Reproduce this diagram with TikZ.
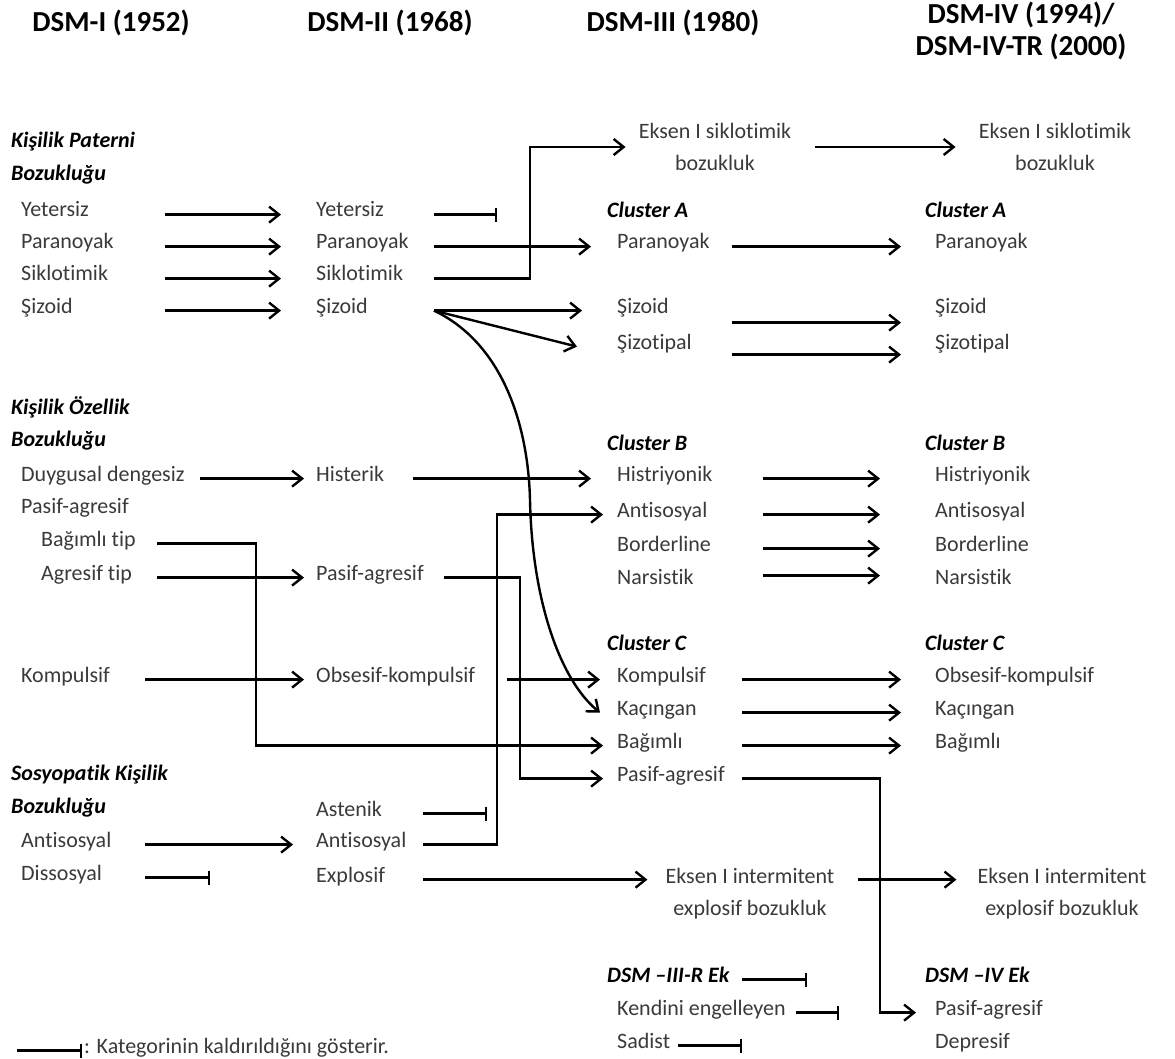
\documentclass[tikz,border=0pt]{standalone}
\usepackage{fontspec}
\setmainfont{Carlito}[Ligatures=NoCommon]
\usetikzlibrary{arrows.meta}
\definecolor{txtgray}{HTML}{3A3A3A}

\begin{document}
\begin{tikzpicture}[
        x=1pt, y=-1pt,
        every node/.style={inner sep=0pt, text=txtgray},
        item/.style={anchor=base west, font=\fontsize{22}{26}\selectfont},
        group/.style={anchor=base west, text=black, font=\fontsize{22}{26}\selectfont\bfseries\itshape},
        era/.style={text=black, align=center, font=\fontsize{29}{32}\selectfont\bfseries},
        pair/.style={align=center, font=\fontsize{22}{32}\selectfont},
        arr/.style={line width=2.4pt, -{Straight Barb[length=10pt,width=16pt]}},
        gone/.style={line width=2.4pt, -{Bar[width=14pt]}}
    ]
  \useasboundingbox (0,0) rectangle (1175,1059);

  % Headers
  \node[era, anchor=base] (h1) at (111,32) {DSM-I (1952)};
  \node[era, anchor=base] (h2) at (390,32) {DSM-II (1968)};
  \node[era, anchor=base] (h3) at (673,32) {DSM-III (1980)};
  \node[era] (h4) at (1021,31) {DSM-IV (1994)/\\DSM-IV-TR (2000)};

  % DSM-I
  \node[group] (kp1) at (11,148) {Kişilik Paterni};
  \node[group] (kp2) at (11,181) {Bozukluğu};
  \node[item] (yet1) at (21,217) {Yetersiz};
  \node[item] (par1) at (21,249) {Paranoyak};
  \node[item] (sik1) at (21,281) {Siklotimik};
  \node[item] (siz1) at (21,313) {Şizoid};
  \node[group] (ko1) at (11,414) {Kişilik Özellik};
  \node[group] (ko2) at (11,446) {Bozukluğu};
  \node[item] (duy1) at (21,481) {Duygusal dengesiz};
  \node[item] (pas1) at (21,513) {Pasif-agresif};
  \node[item] (bag1) at (41,546) {Bağımlı tip};
  \node[item] (agr1) at (41,580) {Agresif tip};
  \node[item] (kom1) at (21,682) {Kompulsif};
  \node[group] (sk1) at (11,780) {Sosyopatik Kişilik};
  \node[group] (sk2) at (11,813) {Bozukluğu};
  \node[item] (ant1) at (21,847) {Antisosyal};
  \node[item] (dis1) at (21,880) {Dissosyal};

  % DSM-II
  \node[item] (yet2) at (316,217) {Yetersiz};
  \node[item] (par2) at (316,249) {Paranoyak};
  \node[item] (sik2) at (316,281) {Siklotimik};
  \node[item] (siz2) at (316,313) {Şizoid};
  \node[item] (his2) at (316,481) {Histerik};
  \node[item] (pas2) at (316,580) {Pasif-agresif};
  \node[item] (obs2) at (316,682) {Obsesif-kompulsif};
  \node[item] (ast2) at (316,816) {Astenik};
  \node[item] (ant2) at (316,847) {Antisosyal};
  \node[item] (exp2) at (316,882) {Explosif};

  % DSM-III
  \node[pair] (eks3a) at (715,147) {Eksen I siklotimik\\bozukluk};
  \node[group] (ca3) at (607,218) {Cluster A};
  \node[item] (par3) at (617,249) {Paranoyak};
  \node[item] (siz3) at (617,313) {Şizoid};
  \node[item] (sizt3) at (617,349) {Şizotipal};
  \node[group] (cb3) at (607,450) {Cluster B};
  \node[item] (his3) at (617,481) {Histriyonik};
  \node[item] (ant3) at (617,517) {Antisosyal};
  \node[item] (bor3) at (617,551) {Borderline};
  \node[item] (nar3) at (617,584) {Narsistik};
  \node[group] (cc3) at (607,650) {Cluster C};
  \node[item] (kom3) at (617,682) {Kompulsif};
  \node[item] (kac3) at (617,715) {Kaçıngan};
  \node[item] (bag3) at (617,748) {Bağımlı};
  \node[item] (pas3) at (617,781) {Pasif-agresif};
  \node[pair] (eks3b) at (750,894) {Eksen I intermitent\\explosif bozukluk};
  \node[group] (ek3) at (607,982) {DSM –III-R Ek};
  \node[item] (ken3) at (617,1015) {Kendini engelleyen};
  \node[item] (sad3) at (617,1048) {Sadist};

  % DSM-IV / DSM-IV-TR
  \node[pair] (eks4a) at (1055,147) {Eksen I siklotimik\\bozukluk};
  \node[group] (ca4) at (925,218) {Cluster A};
  \node[item] (par4) at (935,249) {Paranoyak};
  \node[item] (siz4) at (935,313) {Şizoid};
  \node[item] (sizt4) at (935,349) {Şizotipal};
  \node[group] (cb4) at (925,450) {Cluster B};
  \node[item] (his4) at (935,481) {Histriyonik};
  \node[item] (ant4) at (935,517) {Antisosyal};
  \node[item] (bor4) at (935,551) {Borderline};
  \node[item] (nar4) at (935,584) {Narsistik};
  \node[group] (cc4) at (925,650) {Cluster C};
  \node[item] (obs4) at (935,682) {Obsesif-kompulsif};
  \node[item] (kac4) at (935,715) {Kaçıngan};
  \node[item] (bag4) at (935,748) {Bağımlı};
  \node[pair] (eks4b) at (1062,894) {Eksen I intermitent\\explosif bozukluk};
  \node[group] (ek4) at (925,982) {DSM –IV Ek};
  \node[item] (pas4) at (935,1015) {Pasif-agresif};
  \node[item] (dep4) at (935,1048) {Depresif};

  % legend
  \node[item] (leg) at (84,1053) {: Kategorinin kaldırıldığını gösterir.};

  % DSM-I -> DSM-II
  \draw[arr] ([xshift=144pt]yet1.mid west) -- ([xshift=-35pt]yet2.mid west);
  \draw[arr] ([xshift=144pt]par1.mid west) -- ([xshift=-35pt]par2.mid west);
  \draw[arr] ([xshift=144pt]sik1.mid west) -- ([xshift=-35pt]sik2.mid west);
  \draw[arr] ([xshift=144pt]siz1.mid west) -- ([xshift=-35pt]siz2.mid west);
  \draw[arr] ([xshift=179pt]duy1.mid west) -- ([xshift=-12pt]his2.mid west);
  \draw[arr] ([xshift=116pt]agr1.mid west) -- ([xshift=-12pt]pas2.mid west);
  \draw[arr] ([xshift=124pt]kom1.mid west) -- ([xshift=-12pt]obs2.mid west);
  \draw[arr] ([xshift=124pt]ant1.mid west) -- ([xshift=-23pt]ant2.mid west);
  \draw[gone] ([xshift=124pt]dis1.mid west) -- +(65,0);
  \draw[arr] ([xshift=116pt]bag1.mid west) -- ++(99,0) |- ([xshift=-14pt]bag3.mid west);

  % DSM-II -> DSM-III
  \draw[gone] ([xshift=118pt]yet2.mid west) -- +(63,0);
  \draw[arr] ([xshift=118pt]par2.mid west) -- ([xshift=-26pt]par3.mid west);
  \draw[arr] ([xshift=118pt]sik2.mid west) -- ++(96,0) |- ([xshift=-13pt]eks3a.west);
  \draw[arr] ([xshift=118pt]siz2.mid west) -- ([xshift=-35pt]siz3.mid west);
  \draw[arr] ([xshift=118pt]siz2.mid west) -- ([xshift=-40pt]sizt3.mid west);
  \draw[arr] ([xshift=118pt]siz2.mid west) .. controls (500,342) and (528,420) .. (530,500)
    .. controls (532,600) and (560,680) .. ([xshift=-17pt]kac3.mid west);
  \draw[arr] ([xshift=97pt]his2.mid west) -- ([xshift=-26pt]his3.mid west);
  \draw[arr] ([xshift=128pt]pas2.mid west) -- ++(76,0) |- ([xshift=-14pt]pas3.mid west);
  \draw[arr] ([xshift=191pt]obs2.mid west) -- ([xshift=-17pt]kom3.mid west);
  \draw[gone] ([xshift=107pt]ast2.mid west) -- +(64,0);
  \draw[arr] ([xshift=107pt]ant2.mid west) -- ++(74,0) |- ([xshift=-14pt]ant3.mid west);
  \draw[arr] ([xshift=107pt]exp2.mid west) -- ([xshift=-18pt]eks3b.west |- exp2.mid west);

  % DSM-III -> DSM-IV
  \draw[arr] ([xshift=24pt]eks3a.east) -- ([xshift=-23pt]eks4a.west);
  \draw[arr] ([xshift=115pt]par3.mid west) -- ([xshift=-34pt]par4.mid west);
  \draw[arr] ([xshift=115pt,yshift=-12pt]siz3.mid west) -- ([xshift=-34pt,yshift=-12pt]siz4.mid west);
  \draw[arr] ([xshift=115pt,yshift=-8pt]sizt3.mid west) -- ([xshift=-34pt,yshift=-8pt]sizt4.mid west);
  \draw[arr] ([xshift=146pt]his3.mid west) -- ([xshift=-55pt]his4.mid west);
  \draw[arr] ([xshift=146pt]ant3.mid west) -- ([xshift=-55pt]ant4.mid west);
  \draw[arr] ([xshift=146pt]bor3.mid west) -- ([xshift=-55pt]bor4.mid west);
  \draw[arr] ([xshift=146pt,yshift=6pt]nar3.mid west) -- ([xshift=-55pt,yshift=6pt]nar4.mid west);
  \draw[arr] ([xshift=125pt]kom3.mid west) -- ([xshift=-34pt]obs4.mid west);
  \draw[arr] ([xshift=125pt]kac3.mid west) -- ([xshift=-34pt]kac4.mid west);
  \draw[arr] ([xshift=125pt]bag3.mid west) -- ([xshift=-34pt]bag4.mid west);
  \draw[arr] ([xshift=125pt]pas3.mid west) -- ++(138,0) |- ([xshift=-19pt]pas4.mid west);
  \draw[arr] ([xshift=23pt]eks3b.east |- exp2.mid west) -- ([xshift=-21pt]eks4b.west |- exp2.mid west);
  \draw[gone] ([xshift=135pt]ek3.mid west) -- +(65,0);
  \draw[gone] ([xshift=179pt]ken3.mid west) -- +(43,0);
  \draw[gone] ([xshift=61pt]sad3.mid west) -- +(64,0);

  % legend bar
  \draw[gone] ([xshift=-67pt]leg.mid west) -- ([xshift=-2pt]leg.mid west);
\end{tikzpicture}
\end{document}
